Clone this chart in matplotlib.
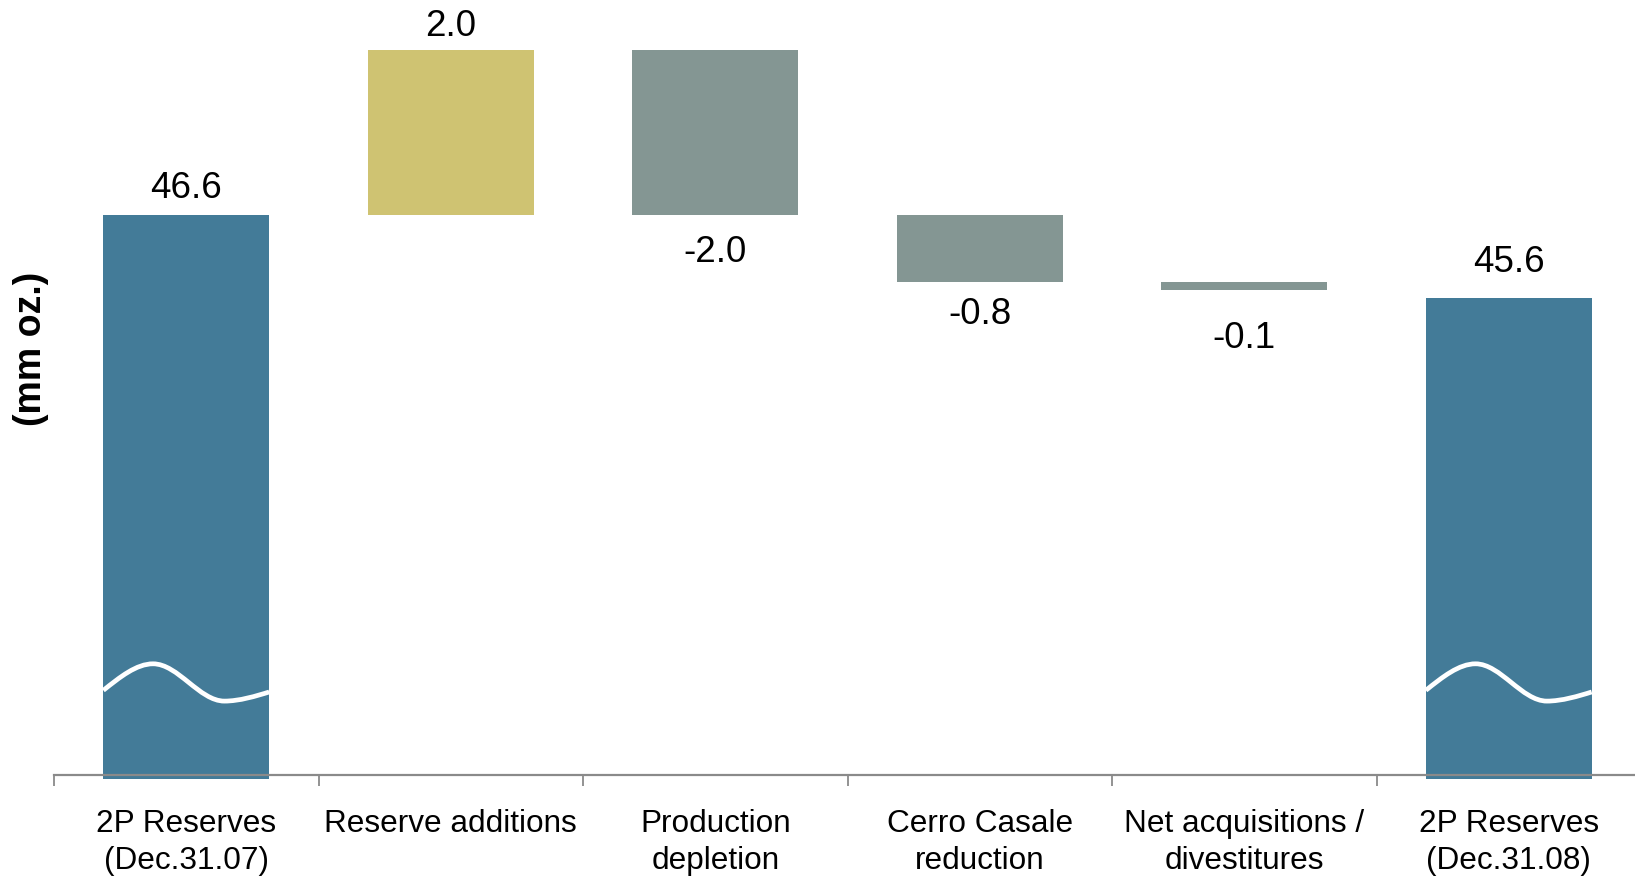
import numpy as np
import matplotlib
matplotlib.use('Agg')
import matplotlib.pyplot as plt
from matplotlib.path import Path
from matplotlib.patches import PathPatch

plt.rcParams['font.family'] = ['Liberation Sans', 'DejaVu Sans']

# Reserve walk, million ounces
categories = [
    '2P Reserves\n(Dec.31.07)',
    'Reserve additions',
    'Production\ndepletion',
    'Cerro Casale\nreduction',
    'Net acquisitions /\ndivestitures',
    '2P Reserves\n(Dec.31.08)',
]
values = [46.6, 2.0, -2.0, -0.8, -0.1, 45.6]
is_total = [True, False, False, False, False, True]
value_labels = ['46.6', '2.0', '-2.0', '-0.8', '-0.1', '45.6']

BLUE = '#437b98'
GOLD = '#cfc372'
GREY = '#849693'
AXIS_GREY = '#8a8a8a'

Y_BASE = 39.8   # broken axis: bars start here
Y_TOP = 49.2
BAR_W = 0.627

# offset (points) of each value label from its bar edge
label_offsets = [7, 4, 14, 11, 22, 13]

# axis-break squiggle, as (fraction of bar width, y) bezier control points
BREAK_VERTS = [(0.0, 40.87), (0.10, 41.03), (0.20, 41.19), (0.30, 41.19),
               (0.45, 41.19), (0.58, 40.74), (0.73, 40.74),
               (0.82, 40.74), (0.92, 40.80), (1.0, 40.85)]
BREAK_CODES = [Path.MOVETO] + [Path.CURVE4] * 9

fig = plt.figure(figsize=(16.35, 8.77), dpi=100)
ax = fig.add_axes([54 / 1635, 98 / 877, 1587 / 1635, 779 / 877])

x = np.arange(len(categories))
bottoms, heights, colors = [], [], []
running = values[0]
for i, (v, tot) in enumerate(zip(values, is_total)):
    if tot:
        bottoms.append(Y_BASE)
        heights.append(v - Y_BASE)
        colors.append(BLUE)
        running = v
    else:
        b = running if v >= 0 else running + v
        bottoms.append(b)
        heights.append(abs(v))
        colors.append(GOLD if v >= 0 else GREY)
        running += v

bars = ax.bar(x, heights, bottom=bottoms, width=BAR_W, color=colors,
              linewidth=0, zorder=2)

# value labels: above for totals / gains, below for losses
for i, bar in enumerate(bars):
    top = bar.get_y() + bar.get_height()
    if is_total[i] or values[i] >= 0:
        ax.annotate(value_labels[i], (x[i], top), xytext=(0, label_offsets[i]),
                    textcoords='offset points', ha='center', va='bottom',
                    fontsize=26.5, color='black')
    else:
        ax.annotate(value_labels[i], (x[i], bar.get_y()),
                    xytext=(0, -label_offsets[i]), textcoords='offset points',
                    ha='center', va='top', fontsize=26.5, color='black')

# white wavy break on the two total bars
for i in np.where(is_total)[0]:
    left = x[i] - BAR_W / 2
    verts = [(left + fx * BAR_W, fy) for fx, fy in BREAK_VERTS]
    ax.add_patch(PathPatch(Path(verts, BREAK_CODES), facecolor='none',
                           edgecolor='white', lw=3.4, capstyle='butt', zorder=3))

ax.set_xlim(-0.5, len(categories) - 0.5)
ax.set_ylim(Y_BASE, Y_TOP)

ax.set_xticks(x)
ax.set_xticklabels(categories)
ax.set_xticks(np.arange(-0.5, len(categories)), minor=True)
ax.tick_params(axis='x', which='major', length=0, pad=24.5, labelsize=22.7)
ax.tick_params(axis='x', which='minor', length=8, width=1.3,
               color=AXIS_GREY, direction='out')
ax.set_yticks([])

for side in ['top', 'right', 'left']:
    ax.spines[side].set_visible(False)
ax.spines['bottom'].set_color(AXIS_GREY)
ax.spines['bottom'].set_linewidth(1.6)
ax.spines['bottom'].set_position(('outward', -3))
ax.spines['bottom'].set_zorder(4)

fig.text(31 / 1635, 1 - 349 / 877, '(mm oz.)', rotation=90, ha='center',
         va='center', fontsize=27, fontweight='bold')

# ticks get built at draw time, so loosen the two-line labels afterwards
fig.canvas.draw()
for lbl in ax.get_xticklabels():
    lbl.set_linespacing(1.32)

fig.savefig('out.png', dpi=100)
